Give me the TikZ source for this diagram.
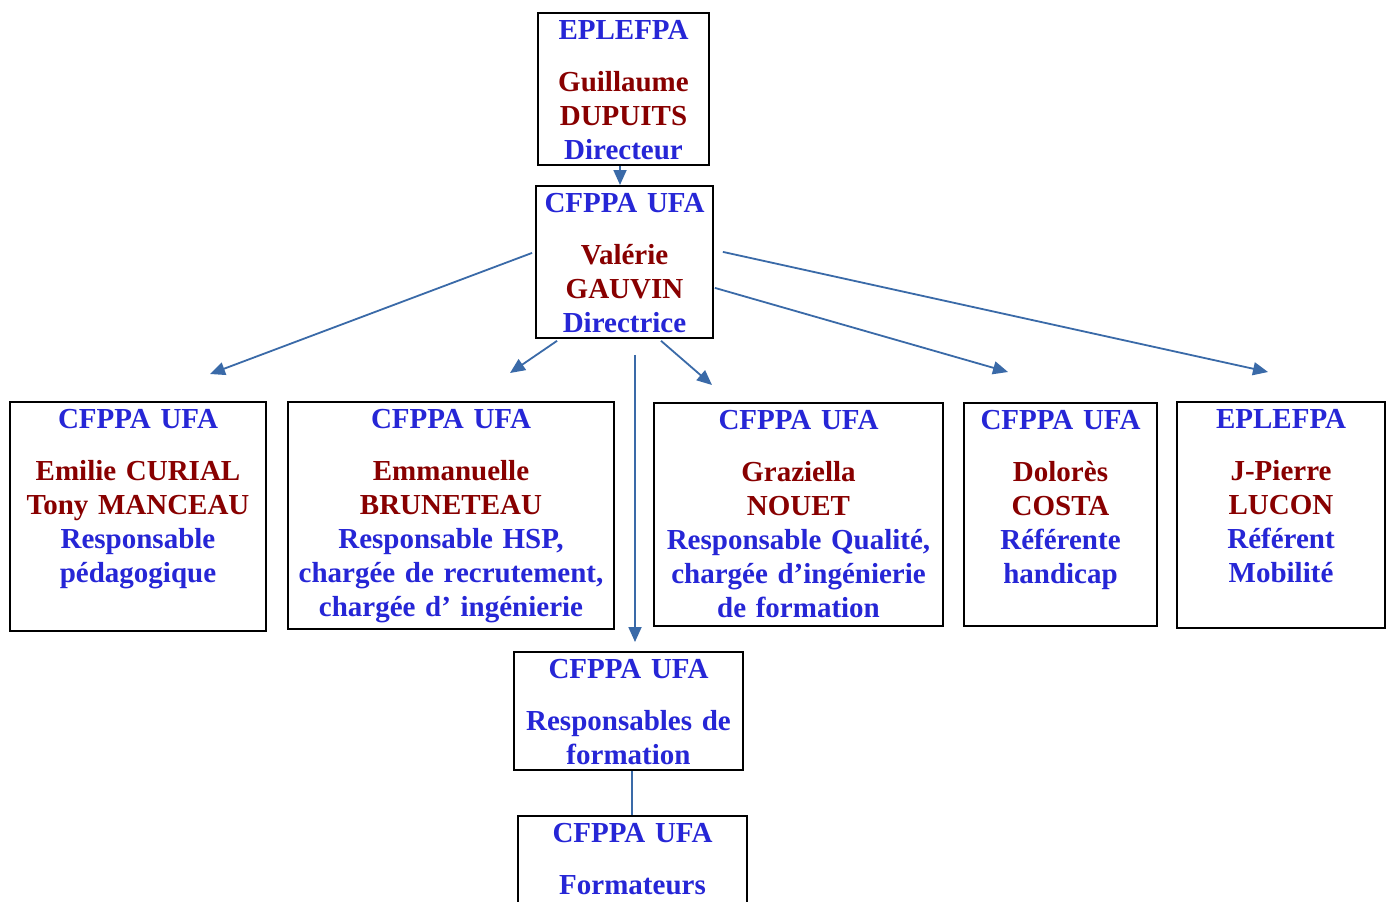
\documentclass[tikz,border=0pt]{standalone}
\usepackage{fontspec}
\setmainfont[WordSpace=0.75]{Liberation Serif}
\usepackage{tikz}
\usetikzlibrary{arrows.meta}

\definecolor{headblue}{RGB}{38,38,214}
\definecolor{namered}{RGB}{136,0,0}
\definecolor{linkblue}{RGB}{58,106,168}

\newcommand{\struct}{\color{headblue}}
\newcommand{\person}{\color{namered}}

\begin{document}
\begin{tikzpicture}[
            x = 1pt, y = -1pt, % pixel grid, y going down
            font = \fontsize{29}{34}\selectfont\bfseries,
            link/.style = {draw = linkblue, line width = 1.8pt,
                -{Triangle[length=15pt, width=13pt]}}, % arrow style
            plain/.style = {draw = linkblue, line width = 1.8pt}
        ]

        \tikzset{
            unit/.style = {
                draw = black,
                line width = 1.8pt,
                anchor = north,
                inner sep = 0pt,
                align = center,
                text height = 27pt
            }
        }

        \fill[white] (0,0) rectangle (1392,902);
        \useasboundingbox (0,0) rectangle (1392,902);
        \clip (0,0) rectangle (1392,902);

        % top of the tree
        \node[unit, text width=171pt, text depth=125pt] (eplefpa) at (623.5,12)
            {\struct EPLEFPA\\[18pt]\person Guillaume\\DUPUITS\\\struct Directeur};
        \node[unit, text width=177pt, text depth=125pt] (gauvin) at (624.5,185)
            {\struct CFPPA UFA\\[18pt]\person Valérie\\GAUVIN\\\struct Directrice};

        % second row
        \node[unit, text width=256pt, text depth=202pt] (curial) at (138,401)
            {\struct CFPPA UFA\\[18pt]\person Emilie CURIAL\\Tony MANCEAU\\\struct Responsable\\pédagogique};
        \node[unit, text width=326pt, text depth=200pt] (bruneteau) at (451,401)
            {\struct CFPPA UFA\\[18pt]\person Emmanuelle\\BRUNETEAU\\\struct Responsable HSP,\\chargée de recrutement,\\chargée d’ ingénierie};
        \node[unit, text width=289pt, text depth=196pt] (nouet) at (798.5,402)
            {\struct CFPPA UFA\\[18pt]\person Graziella\\NOUET\\\struct Responsable Qualité,\\chargée d’ingénierie\\de formation};
        \node[unit, text width=193pt, text depth=196pt] (costa) at (1060.5,402)
            {\struct CFPPA UFA\\[18pt]\person Dolorès\\COSTA\\\struct Référente\\handicap};
        \node[unit, text width=208pt, text depth=199pt] (lucon) at (1281,401)
            {\struct EPLEFPA\\[18pt]\person J-Pierre\\LUCON\\\struct Référent\\Mobilité};

        % lower part
        \node[unit, text width=229pt, text depth=91pt] (resp) at (628.5,651)
            {\struct CFPPA UFA\\[18pt]Responsables de\\formation};
        \node[unit, text width=229pt, text depth=150pt] (formateurs) at (632.5,815)
            {\struct CFPPA UFA\\[18pt]Formateurs};

        % free arrow tips
        \coordinate (tipcurial) at (210,374);
        \coordinate (tipbruneteau) at (510,373);
        \coordinate (tipresp) at (635,642);
        \coordinate (tipnouet) at (712,385);
        \coordinate (tipcosta) at (1008,372);
        \coordinate (tiplucon) at (1268,372);

        \draw[link] ([xshift=-3.5pt]eplefpa.south) -- ([xshift=-4.5pt]gauvin.north);
        \draw[link] ([xshift=-3pt, yshift=9pt]gauvin.west) -- (tipcurial);
        \draw[link] ([xshift=22pt, yshift=-2pt]gauvin.south west) -- (tipbruneteau);
        \draw[link] ([xshift=10.5pt, yshift=-16pt]gauvin.south) -- (tipresp);
        \draw[link] ([xshift=36.5pt, yshift=-2pt]gauvin.south) -- (tipnouet);
        \draw[link] ([xshift=1pt, yshift=-26pt]gauvin.east) -- (tipcosta);
        \draw[link] ([xshift=9pt, yshift=10pt]gauvin.east) -- (tiplucon);
        \draw[plain] ([xshift=3.5pt]resp.south) -- ([xshift=-0.5pt]formateurs.north);

\end{tikzpicture}
\end{document}
